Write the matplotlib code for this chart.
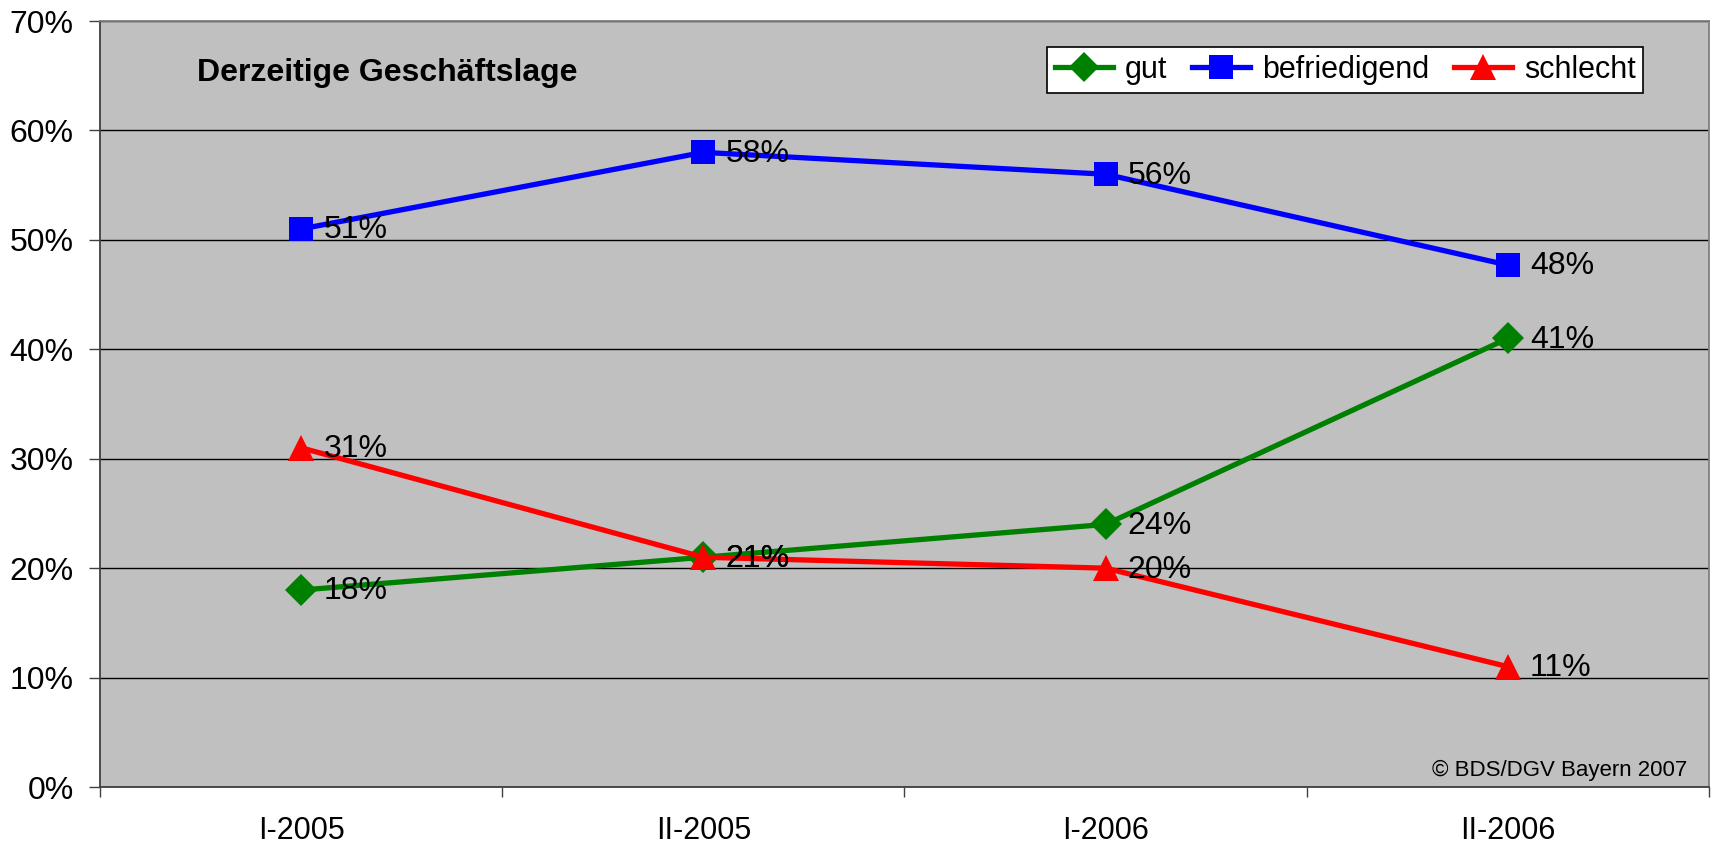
import matplotlib.pyplot as plt

plt.rcParams['font.family'] = ['Liberation Sans', 'DejaVu Sans']

# data
perioden = ['I-2005', 'II-2005', 'I-2006', 'II-2006']
gut = [18, 21, 24, 41]
befriedigend = [51, 58, 56, 47.7]
schlecht = [31, 21, 20, 11]

fig = plt.figure(figsize=(17.15, 8.49), dpi=100)
ax = fig.add_axes([0.0583, 0.0730, 0.9382, 0.9022])
ax.set_facecolor('#C0C0C0')

x = [i + 0.5 for i in range(len(perioden))]

reihen = [
    ('gut', gut, '#008000', 'D', 16),
    ('befriedigend', befriedigend, '#0000FF', 's', 17.5),
    ('schlecht', schlecht, '#FF0000', '^', 19),
]

for name, werte, farbe, marker, ms in reihen:
    ax.plot(x, werte, color=farbe, lw=3.8, marker=marker, ms=ms,
            markeredgewidth=0, label=name, zorder=3)
    for xi, v in zip(x, werte):
        ax.annotate(f'{v:.0f}%', (xi, v), xytext=(16, -1), textcoords='offset points',
                    ha='left', va='center', fontsize=23, zorder=4)

# achsen
ax.set_xlim(0, 4)
ax.set_ylim(0, 70)
ax.set_yticks(range(0, 71, 10))
ax.set_yticklabels([f'{v}%' for v in range(0, 71, 10)], fontsize=23)
ax.yaxis.grid(True, color='black', lw=1)
ax.set_axisbelow(True)

ax.set_xticks([0, 1, 2, 3, 4])
ax.set_xticklabels([])
ax.set_xticks(x, minor=True)
ax.set_xticklabels(perioden, minor=True, fontsize=22)
ax.tick_params(axis='x', which='major', length=7.5, width=1, color='#404040')
ax.tick_params(axis='x', which='minor', length=0, pad=21)
ax.tick_params(axis='y', length=8, width=1, pad=11, color='#404040')

for s in ['left', 'bottom']:
    ax.spines[s].set_color('#404040')
for s in ['top', 'right']:
    ax.spines[s].set_color('#808080')
for s in ax.spines.values():
    s.set_linewidth(1.3)

ax.text(0.0603, 0.932, 'Derzeitige Geschäftslage', transform=ax.transAxes,
        ha='left', va='center', fontsize=23, fontweight='bold')
ax.text(0.9863, 0.0144, '© BDS/DGV Bayern 2007', transform=ax.transAxes,
        ha='right', va='baseline', fontsize=16)

leg = ax.legend(loc='center', bbox_to_anchor=(0.774, 0.936), ncol=3, fontsize=22,
                frameon=True, fancybox=False, edgecolor='black', framealpha=1,
                handlelength=1.9, columnspacing=0.8, handletextpad=0.4,
                borderpad=0.25, borderaxespad=0, markerscale=0.95)
leg.get_frame().set_linewidth(1.2)

fig.savefig('out.png', dpi=100)
